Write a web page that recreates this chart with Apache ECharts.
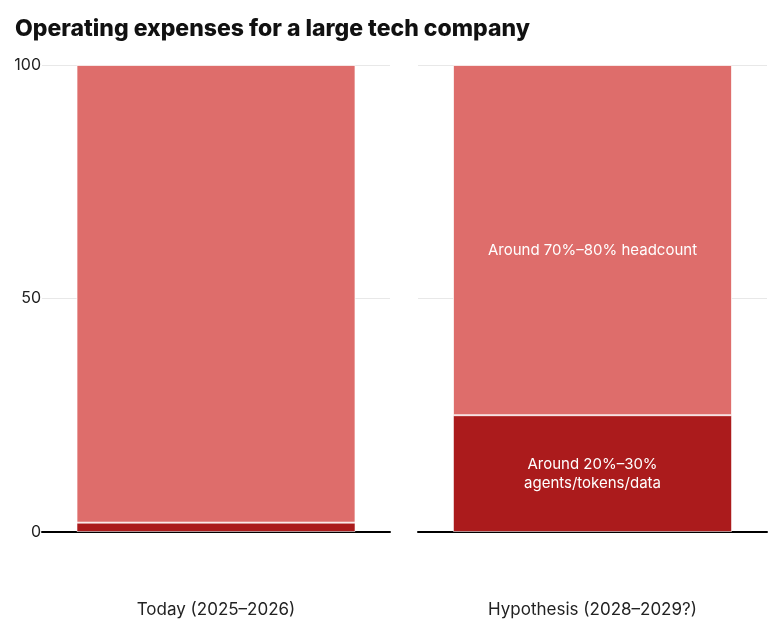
<!DOCTYPE html>
<html>
<head>
<meta charset="utf-8">
<script src="https://cdn.jsdelivr.net/npm/echarts@6/dist/echarts.min.js"></script>
<style>
  html, body { margin: 0; padding: 0; background: #fff; }
  #chart { width: 781px; height: 642px; }
</style>
</head>
<body>
<div id="chart"></div>
<script>
// data
const panels = ['Today (2025–2026)', 'Hypothesis (2028–2029?)'];
const aiShare = [2, 25];
const headcountShare = [98, 75];
const aiLabels = ['', 'Around 20%–30%\nagents/tokens/data'];
const headcountLabels = ['', 'Around 70%–80% headcount'];
const yTicks = [0, 50, 100];

const LIGHT = '#de6d6b';
const DARK = '#ab1b1c';
const FONT = 'Inter, "Noto Sans", sans-serif';

const chart = echarts.init(document.getElementById('chart'), null, { renderer: 'canvas' });

const grids = [
  { left: 42, right: 391, top: 65, bottom: 110 },
  { left: 418, right: 14, top: 65, bottom: 110 }
];

const xAxes = panels.map((name, i) => ({
  type: 'category',
  gridIndex: i,
  data: [name],
  axisTick: { show: false },
  axisLine: { lineStyle: { color: '#000', width: 2 } },
  axisLabel: { margin: 69, fontSize: 17, color: '#222', fontFamily: FONT }
}));

const yAxes = panels.map((name, i) => ({
  type: 'value',
  gridIndex: i,
  min: yTicks[0],
  max: yTicks[yTicks.length - 1],
  interval: 50,
  axisLine: { show: false },
  axisTick: { show: false },
  splitLine: { lineStyle: { color: '#e8e8e8', width: 1 } },
  axisLabel: {
    show: i === 0,
    margin: 1,
    fontSize: 16,
    color: '#222',
    fontFamily: FONT
  }
}));

const series = [];
panels.forEach((name, i) => {
  series.push({
    type: 'bar',
    name: 'agents/tokens/data',
    xAxisIndex: i,
    yAxisIndex: i,
    stack: 'p' + i,
    barWidth: 279,
    data: [aiShare[i]],
    itemStyle: { color: DARK, borderColor: 'rgba(255,255,255,0.55)', borderWidth: 1 },
    label: {
      show: aiLabels[i] !== '',
      position: 'inside',
      formatter: aiLabels[i],
      color: '#fff',
      fontSize: 15,
      lineHeight: 19,
      fontFamily: FONT
    }
  });
  series.push({
    type: 'bar',
    name: 'headcount',
    xAxisIndex: i,
    yAxisIndex: i,
    stack: 'p' + i,
    barWidth: 279,
    data: [headcountShare[i]],
    itemStyle: { color: LIGHT, borderColor: 'rgba(255,255,255,0.7)', borderWidth: 1 },
    label: {
      show: headcountLabels[i] !== '',
      position: 'inside',
      offset: [0, 10],
      formatter: headcountLabels[i],
      color: '#fff',
      fontSize: 15,
      fontFamily: FONT
    }
  });
});

chart.setOption({
  animation: false,
  title: {
    text: 'Operating expenses for a large tech company',
    left: 10,
    top: 13,
    textStyle: { fontSize: 23, fontWeight: 800, color: '#111', fontFamily: FONT }
  },
  grid: grids,
  xAxis: xAxes,
  yAxis: yAxes,
  series: series
});
</script>
</body>
</html>
